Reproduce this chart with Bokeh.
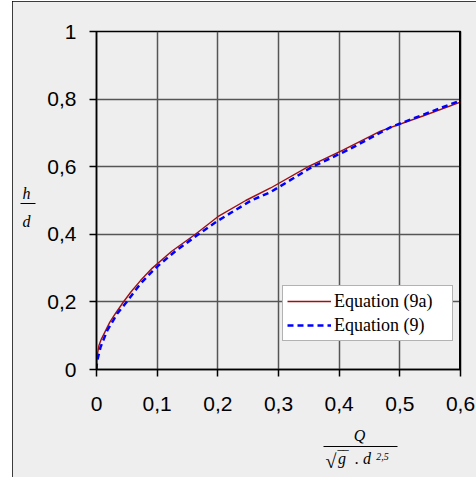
from bokeh.plotting import figure
from bokeh.models import FixedTicker, Legend, LegendItem, Span, Range1d, LinearAxis
from bokeh.embed import file_html
from bokeh.resources import INLINE

# Equation (9a) - dark red solid
red_x = [0, 0.0005, 0.002, 0.004, 0.008, 0.015, 0.022, 0.031, 0.044, 0.057, 0.0725, 0.092,
         0.124, 0.163, 0.2, 0.246, 0.287, 0.349, 0.407, 0.468, 0.538, 0.6, 0.626]
red_y = [0, 0.03, 0.05, 0.071, 0.09, 0.115, 0.14, 0.165, 0.199, 0.23, 0.263, 0.3,
         0.35, 0.4, 0.452, 0.5, 0.537, 0.6, 0.65, 0.705, 0.75, 0.791, 0.81]
# Equation (9) - blue dashed
blue_x = [0, 0.0005, 0.002, 0.0066, 0.0176, 0.034, 0.048, 0.0725, 0.097, 0.13, 0.168, 0.2,
          0.255, 0.287, 0.356, 0.415, 0.485, 0.54, 0.6, 0.626]
blue_y = [0, 0.015, 0.032, 0.066, 0.115, 0.165, 0.196, 0.254, 0.3, 0.35, 0.4, 0.44,
          0.5, 0.525, 0.6, 0.65, 0.717, 0.755, 0.796, 0.817]

series_names = ["Equation (9a)", "Equation (9)"]
x_ticks = [0, 0.1, 0.2, 0.3, 0.4, 0.5, 0.6]
x_tick_labels = ["0", "0,1", "0,2", "0,3", "0,4", "0,5", "0,6"]
y_ticks = [0, 0.2, 0.4, 0.6, 0.8, 1]
y_tick_labels = ["0", "0,2", "0,4", "0,6", "0,8", "1"]

X0, X1, Y0, Y1 = 0, 0.6, 0, 1
FL, FR, FT, FB = 96, 460, 31, 369   # frame edges on the page (px)

p = figure(width=464, height=476, output_backend="svg", toolbar_location=None,
           x_range=Range1d(X0, X1), y_range=Range1d(Y0, Y1),
           min_border_left=FL - 12, min_border_right=476 - FR,
           min_border_top=FT - 1, min_border_bottom=477 - FB)
p.styles = {"margin-left": "12px", "margin-top": "1px",
            "outline": "1px solid #000000", "outline-offset": "-1px"}

p.background_fill_color = "#eeeeee"
p.border_fill_color = "#eeeeee"
p.outline_line_color = "black"
p.outline_line_width = 1.5

p.xaxis.ticker = FixedTicker(ticks=x_ticks)
p.yaxis.ticker = FixedTicker(ticks=y_ticks)
p.xgrid.ticker = FixedTicker(ticks=x_ticks)
p.ygrid.ticker = FixedTicker(ticks=y_ticks)
p.xaxis.major_label_overrides = dict(zip(x_ticks, x_tick_labels))
p.yaxis.major_label_overrides = dict(zip(y_ticks, y_tick_labels))

for ax in (p.xaxis[0], p.yaxis[0]):
    ax.major_tick_in = 0
    ax.major_tick_out = 7
    ax.major_tick_line_color = "black"
    ax.major_tick_line_width = 1.5
    ax.minor_tick_line_color = None
    ax.axis_line_color = "black"
    ax.axis_line_width = 1.5
    ax.major_label_text_font = "Liberation Sans"
    ax.major_label_text_font_size = "21px"
    ax.major_label_text_color = "black"
p.xaxis.major_label_standoff = 20
p.yaxis.major_label_standoff = 13

p.grid.grid_line_color = "#555555"
p.grid.grid_line_width = 1.5

p.add_layout(Span(location=X1, dimension="height", line_color="black", line_width=3))

r1 = p.line(red_x, red_y, line_color="#a01010", line_width=1.4)
r2 = p.line(blue_x, blue_y, line_color="#0000ff", line_width=2.5, line_dash="6 4")

legend = Legend(items=[LegendItem(label=series_names[0], renderers=[r1]),
                       LegendItem(label=series_names[1], renderers=[r2])],
                location=(186, 28))
legend.label_text_font = "Liberation Serif"
legend.label_text_font_size = "18px"
legend.label_text_color = "black"
legend.border_line_color = "#666666"
legend.border_line_width = 1
legend.background_fill_color = "white"
legend.background_fill_alpha = 1
legend.padding = 4
legend.spacing = 2
legend.label_height = 22
legend.glyph_height = 22
legend.glyph_width = 44
legend.label_standoff = 3
legend.label_width = 114
legend.margin = 0
p.add_layout(legend)


def dx(px):
    return X0 + (px - FL) / (FR - FL) * (X1 - X0)


def dy(py):
    return Y0 + (FB - py) / (FB - FT) * (Y1 - Y0)


def text_axis(side, centers, texts, size, standoff, style="italic", minor=None,
              minor_in=0, minor_out=0, bounds=None):
    """An extra, label-only axis used to typeset the fraction-style axis titles."""
    ticks = list(centers)
    ax = LinearAxis(ticker=FixedTicker(ticks=ticks, minor_ticks=list(minor or [])),
                    major_label_overrides=dict(zip(ticks, texts)))
    ax.major_tick_in = 0
    ax.major_tick_out = 0
    ax.major_tick_line_color = None
    ax.minor_tick_line_color = "black" if minor else None
    ax.minor_tick_line_width = 1
    ax.minor_tick_in = minor_in
    ax.minor_tick_out = minor_out
    ax.major_label_text_font = "Liberation Serif"
    ax.major_label_text_font_size = size
    ax.major_label_text_font_style = style
    ax.major_label_text_color = "black"
    ax.major_label_standoff = standoff
    if bounds is None:
        ax.axis_line_color = None
    else:
        ax.bounds = bounds
        ax.axis_line_color = "black"
        ax.axis_line_width = 1
    p.add_layout(ax, side)
    return ax


# y axis title:  h / d  (fraction bar drawn as a minor tick)
text_axis("left", [dy(193), dy(221)], ["h", "d"], "16px", -10,
          minor=[dy(202.5)], minor_in=-9, minor_out=24)

# x axis title:  Q / (sqrt(g) . d^2,5)
text_axis("below", [dx(359)], ["Q"], "16px", 13)
text_axis("below", [dx(341.5), dx(342.5), dx(362.5)],
          ["g", "\u203e\u203e", ". d"], "16px", 3,
          bounds=(dx(323), dx(397)))
text_axis("below", [dx(382)], ["2,5"], "10px", -17)
text_axis("below", [dx(330.5)], ["\u221a"], "20px", -20, style="normal")

open("out.html", "w").write(file_html(p, INLINE))
